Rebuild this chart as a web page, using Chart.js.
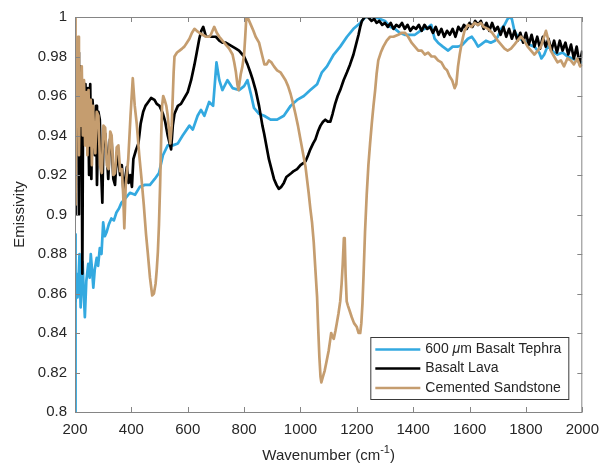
<!DOCTYPE html>
<html>
<head>
<meta charset="utf-8">
<script src="https://cdn.jsdelivr.net/npm/chart.js@4.4.0/dist/chart.umd.min.js"></script>
<style>
  html, body { margin: 0; padding: 0; background: #fff; }
  #wrap { width: 608px; height: 468px; }
</style>
</head>
<body>
<div id="wrap"><canvas id="chart" width="608" height="468"></canvas></div>
<script>
  // ── data: [wavenumber (cm-1), emissivity] ──
  const xTicks = [200, 400, 600, 800, 1000, 1200, 1400, 1600, 1800, 2000];
  const yTicks = [0.8, 0.82, 0.84, 0.86, 0.88, 0.9, 0.92, 0.94, 0.96, 0.98, 1];

  const seriesNames = ['600 μm Basalt Tephra', 'Basalt Lava', 'Cemented Sandstone'];

  const tephra = [
    [200,0.800],[201,0.890],[203,0.855],[206,0.870],[209,0.858],[212,0.865],[216,0.880],[220,0.853],
    [224,0.868],[227,0.876],[231,0.860],[235,0.848],[240,0.866],[247,0.875],[252,0.868],[256,0.880],
    [261,0.871],[265,0.863],[270,0.872],[277,0.878],[282,0.874],[288,0.883],[294,0.880],[300,0.896],
    [306,0.889],[312,0.891],[320,0.895],[329,0.898],[338,0.897],[347,0.901],[356,0.903],[365,0.906],
    [378,0.908],[395,0.911],[413,0.910],[430,0.914],[448,0.915],[466,0.915],[483,0.918],[498,0.921],
    [512,0.930],[529,0.935],[547,0.935],[565,0.936],[582,0.940],[606,0.945],[618,0.943],[635,0.950],
    [647,0.953],[659,0.950],[676,0.957],[690,0.955],[702,0.977],[712,0.968],[723,0.963],[741,0.968],
    [759,0.964],[782,0.963],[800,0.965],[812,0.968],[824,0.961],[835,0.954],[853,0.951],[871,0.950],
    [894,0.948],[917,0.948],[941,0.950],[965,0.955],[988,0.958],[1012,0.960],[1035,0.963],[1059,0.966],
    [1076,0.972],[1094,0.975],[1118,0.981],[1141,0.985],[1165,0.990],[1188,0.994],[1212,0.997],[1230,1.000],
    [1250,1.000],[1265,1.000],[1282,0.999],[1300,0.998],[1318,0.995],[1335,0.994],[1352,0.992],[1370,0.991],
    [1388,0.991],[1406,0.991],[1425,0.993],[1441,0.994],[1455,0.995],[1464,0.996],[1476,0.989],[1488,0.987],
    [1505,0.985],[1524,0.983],[1540,0.985],[1559,0.985],[1575,0.986],[1594,0.989],[1608,0.990],[1618,0.988],
    [1630,0.985],[1640,0.986],[1658,0.988],[1675,0.987],[1690,0.988],[1700,0.990],[1712,0.994],[1724,0.996],
    [1735,0.999],[1742,1.000],[1750,0.999],[1759,0.993],[1775,0.989],[1795,0.988],[1812,0.986],[1830,0.985],
    [1847,0.982],[1855,0.979],[1865,0.981],[1876,0.985],[1888,0.984],[1900,0.982],[1912,0.981],[1930,0.982],
    [1947,0.980],[1965,0.979],[1980,0.978],[1993,0.977],[2000,0.977]
  ];

  const lava = [
    [200,0.900],[202,0.985],[205,0.960],[208,0.975],[211,0.982],[214,0.900],[217,0.975],[220,0.962],
    [223,0.968],[226,0.870],[229,0.966],[233,0.950],[237,0.966],[242,0.940],[246,0.964],[250,0.920],
    [254,0.966],[258,0.918],[262,0.958],[266,0.950],[270,0.930],[275,0.955],[278,0.915],[283,0.952],
    [288,0.948],[292,0.925],[297,0.906],[301,0.940],[307,0.941],[313,0.930],[318,0.918],[324,0.938],
    [330,0.937],[336,0.918],[342,0.915],[348,0.930],[354,0.927],[360,0.920],[366,0.925],[372,0.912],
    [378,0.918],[384,0.924],[390,0.916],[396,0.920],[402,0.914],[407,0.928],[415,0.932],[425,0.936],
    [433,0.946],[442,0.952],[450,0.955],[460,0.957],[470,0.959],[482,0.958],[490,0.956],[500,0.955],
    [512,0.951],[520,0.947],[529,0.940],[541,0.933],[547,0.945],[553,0.951],[565,0.955],[576,0.956],
    [588,0.959],[600,0.962],[612,0.968],[624,0.976],[632,0.982],[641,0.989],[648,0.993],[655,0.995],
    [665,0.990],[676,0.990],[690,0.990],[700,0.990],[712,0.988],[723,0.987],[735,0.987],[747,0.986],
    [759,0.985],[771,0.984],[782,0.983],[800,0.980],[812,0.976],[822,0.972],[829,0.969],[841,0.963],
    [853,0.955],[865,0.945],[871,0.941],[888,0.928],[906,0.918],[915,0.915],[923,0.913],[932,0.914],
    [941,0.916],[950,0.919],[959,0.920],[968,0.921],[976,0.922],[988,0.923],[1000,0.925],[1010,0.926],
    [1018,0.927],[1027,0.930],[1035,0.933],[1045,0.936],[1053,0.938],[1062,0.942],[1071,0.945],[1080,0.947],
    [1088,0.948],[1097,0.947],[1106,0.947],[1114,0.951],[1123,0.956],[1132,0.960],[1141,0.963],[1153,0.968],
    [1165,0.972],[1176,0.976],[1188,0.981],[1197,0.986],[1206,0.991],[1212,0.995],[1218,0.998],[1228,1.000],
    [1240,1.000],[1252,0.998],[1262,0.999],[1270,0.997],[1280,0.998],[1290,0.996],[1300,0.997],[1310,0.995],
    [1320,0.997],[1330,0.994],[1340,0.996],[1350,0.995],[1360,0.997],[1370,0.994],[1380,0.996],[1390,0.993],
    [1400,0.995],[1410,0.994],[1420,0.996],[1430,0.993],[1440,0.996],[1450,0.994],[1460,0.995],[1470,0.992],
    [1480,0.995],[1490,0.991],[1500,0.994],[1510,0.990],[1520,0.993],[1530,0.991],[1540,0.994],[1550,0.990],
    [1560,0.995],[1570,0.993],[1580,0.996],[1590,0.994],[1600,0.997],[1610,0.995],[1620,0.998],[1630,0.996],
    [1640,0.998],[1650,0.994],[1660,0.997],[1670,0.993],[1680,0.997],[1690,0.993],[1700,0.995],[1710,0.991],
    [1720,0.995],[1730,0.990],[1740,0.994],[1750,0.989],[1760,0.993],[1770,0.988],[1780,0.992],[1790,0.987],
    [1800,0.992],[1810,0.986],[1820,0.991],[1830,0.985],[1840,0.990],[1850,0.984],[1860,0.990],[1870,0.985],
    [1880,0.989],[1890,0.983],[1900,0.988],[1910,0.982],[1920,0.988],[1930,0.983],[1940,0.987],[1950,0.981],
    [1960,0.986],[1970,0.979],[1980,0.985],[1990,0.976],[2000,0.983]
  ];

  const sandstone = [
    [200,1.000],[201,0.968],[203,0.905],[205,0.975],[208,0.950],[211,0.990],[214,0.930],[217,0.971],
    [220,0.945],[224,0.975],[228,0.940],[232,0.968],[236,0.935],[240,0.962],[244,0.930],[248,0.963],
    [252,0.935],[256,0.958],[260,0.925],[264,0.955],[268,0.940],[272,0.931],[277,0.952],[283,0.950],
    [289,0.925],[295,0.921],[301,0.945],[307,0.944],[313,0.925],[319,0.923],[325,0.942],[330,0.940],
    [336,0.920],[342,0.921],[348,0.934],[354,0.935],[360,0.922],[366,0.923],[371,0.910],[375,0.893],
    [380,0.915],[389,0.928],[397,0.950],[405,0.969],[412,0.955],[419,0.946],[428,0.930],[436,0.918],
    [444,0.905],[452,0.890],[458,0.881],[466,0.868],[474,0.859],[480,0.860],[486,0.865],[490,0.872],
    [494,0.881],[498,0.895],[502,0.915],[506,0.940],[509,0.955],[513,0.960],[518,0.958],[524,0.955],
    [529,0.950],[534,0.942],[538,0.936],[543,0.945],[547,0.960],[550,0.972],[553,0.980],[562,0.982],
    [571,0.983],[580,0.984],[588,0.985],[597,0.987],[606,0.989],[615,0.992],[624,0.994],[632,0.993],
    [641,0.992],[653,0.991],[665,0.990],[676,0.990],[682,0.991],[688,0.993],[694,0.995],[703,0.992],
    [712,0.990],[723,0.988],[735,0.986],[747,0.984],[759,0.981],[765,0.977],[771,0.972],[776,0.966],
    [780,0.963],[784,0.967],[788,0.971],[794,0.975],[800,0.981],[804,0.990],[808,1.000],[815,0.999],
    [824,0.996],[833,0.993],[841,0.990],[853,0.987],[865,0.980],[872,0.976],[880,0.976],[888,0.978],
    [897,0.977],[906,0.975],[917,0.973],[929,0.972],[938,0.970],[947,0.968],[956,0.965],[965,0.961],
    [974,0.956],[982,0.951],[991,0.945],[1000,0.938],[1009,0.931],[1018,0.924],[1029,0.911],[1035,0.903],
    [1041,0.896],[1047,0.886],[1053,0.872],[1059,0.858],[1063,0.842],[1067,0.828],[1071,0.818],[1074,0.815],
    [1080,0.818],[1086,0.821],[1093,0.826],[1100,0.831],[1105,0.836],[1109,0.840],[1114,0.838],[1118,0.837],
    [1124,0.841],[1129,0.845],[1135,0.850],[1141,0.856],[1146,0.865],[1150,0.875],[1154,0.888],[1157,0.888],
    [1160,0.870],[1164,0.856],[1168,0.854],[1175,0.851],[1182,0.848],[1190,0.845],[1200,0.843],[1206,0.840],
    [1212,0.840],[1216,0.845],[1220,0.855],[1224,0.870],[1229,0.891],[1235,0.910],[1241,0.925],[1247,0.936],
    [1253,0.946],[1259,0.955],[1265,0.963],[1270,0.971],[1276,0.978],[1285,0.982],[1294,0.985],[1306,0.988],
    [1318,0.990],[1330,0.990],[1347,0.991],[1360,0.992],[1371,0.992],[1382,0.990],[1394,0.987],[1406,0.985],
    [1418,0.983],[1430,0.983],[1441,0.981],[1453,0.982],[1465,0.980],[1476,0.980],[1488,0.978],[1500,0.977],
    [1512,0.974],[1520,0.973],[1529,0.970],[1538,0.968],[1547,0.964],[1553,0.966],[1559,0.975],[1565,0.981],
    [1571,0.986],[1577,0.990],[1582,0.993],[1594,0.996],[1606,0.995],[1618,0.997],[1629,0.996],[1640,0.997],
    [1650,0.995],[1665,0.994],[1680,0.992],[1690,0.990],[1700,0.988],[1712,0.986],[1724,0.984],[1735,0.983],
    [1747,0.984],[1759,0.986],[1770,0.988],[1782,0.990],[1794,0.988],[1806,0.985],[1818,0.983],[1830,0.981],
    [1842,0.983],[1853,0.985],[1862,0.989],[1871,0.993],[1880,0.988],[1888,0.983],[1900,0.980],[1912,0.977],
    [1924,0.978],[1935,0.975],[1947,0.979],[1959,0.978],[1970,0.976],[1982,0.979],[1992,0.975],[2000,0.976]
  ];

  const FONT = "'Liberation Sans', Arial, Helvetica, sans-serif";
  const AXIS_COLOR = '#858585';
  const TEXT_COLOR = '#262626';
  const COLORS = ['#33a9e0', '#000000', '#c59d6f'];

  const toXY = (arr) => arr.map(([x, y]) => ({ x, y }));

  // ── box, inward ticks, x title, legend (MATLAB look) ──
  const matlabFrame = {
    id: 'matlabFrame',
    afterDatasetsDraw(chart) {
      const { ctx, chartArea: a, scales: { x, y } } = chart;
      ctx.save();

      // axes box + ticks
      ctx.strokeStyle = AXIS_COLOR;
      ctx.lineWidth = 1;
      ctx.beginPath();
      xTicks.forEach(v => {
        const px = Math.round(x.getPixelForValue(v)) + 0.5;
        ctx.moveTo(px, a.bottom); ctx.lineTo(px, a.bottom - 5);
        ctx.moveTo(px, a.top); ctx.lineTo(px, a.top + 5);
      });
      yTicks.forEach(v => {
        const py = Math.round(y.getPixelForValue(v)) + 0.5;
        ctx.moveTo(a.left, py); ctx.lineTo(a.left + 5, py);
        ctx.moveTo(a.right, py); ctx.lineTo(a.right - 5, py);
      });
      ctx.stroke();
      ctx.strokeRect(a.left + 0.5, a.top + 0.5, a.width - 1, a.height);

      // x title with superscript
      ctx.fillStyle = TEXT_COLOR;
      ctx.textBaseline = 'alphabetic';
      const main = '15px ' + FONT, sup = '11px ' + FONT;
      ctx.font = main;
      const t1 = 'Wavenumber (cm', t3 = ')';
      const w1 = ctx.measureText(t1).width, w3 = ctx.measureText(t3).width;
      ctx.font = sup;
      const w2 = ctx.measureText('-1').width;
      const cx = (a.left + a.right) / 2;
      let tx = cx - (w1 + w2 + w3) / 2;
      const base = a.bottom + 48;
      ctx.font = main; ctx.textAlign = 'left';
      ctx.fillText(t1, tx, base); tx += w1;
      ctx.font = sup; ctx.fillText('-1', tx, base - 7); tx += w2;
      ctx.font = main; ctx.fillText(t3, tx, base);

      // legend
      const bw = 198, bh = 62;
      const bx = a.right - 14 - bw, by = a.bottom - 13 - bh;
      ctx.fillStyle = '#fff';
      ctx.fillRect(bx, by, bw, bh);
      ctx.strokeStyle = '#3a3a3a';
      ctx.strokeRect(bx + 0.5, by + 0.5, bw, bh);
      const rowY = [by + 12.5, by + 31.5, by + 51];
      chart.data.datasets.forEach((ds, i) => {
        const ry = rowY[i];
        ctx.strokeStyle = ds.borderColor;
        ctx.lineWidth = 2.7;
        ctx.beginPath();
        ctx.moveTo(bx + 5, ry); ctx.lineTo(bx + 50, ry);
        ctx.stroke();
        ctx.fillStyle = TEXT_COLOR;
        ctx.textBaseline = 'middle';
        let lx = bx + 55;
        if (i === 0) {
          // TeX-style italic mu
          const parts = [['600 ', '14px ' + FONT], ['μ', 'italic 14px ' + FONT], ['m Basalt Tephra', '14px ' + FONT]];
          parts.forEach(([s, f]) => { ctx.font = f; ctx.fillText(s, lx, ry); lx += ctx.measureText(s).width; });
        } else {
          ctx.font = '14px ' + FONT;
          ctx.fillText(ds.label, lx, ry);
        }
      });
      ctx.restore();
    }
  };

  new Chart(document.getElementById('chart'), {
    type: 'line',
    data: {
      datasets: [
        { label: seriesNames[0], data: toXY(tephra), borderColor: COLORS[0], order: 3 },
        { label: seriesNames[1], data: toXY(lava), borderColor: COLORS[1], order: 2 },
        { label: seriesNames[2], data: toXY(sandstone), borderColor: COLORS[2], order: 1 },
      ],
    },
    options: {
      responsive: false,
      animation: false,
      layout: { padding: { top: 12, right: 23, left: 0, bottom: 0 } },
      elements: {
        point: { radius: 0 },
        line: { borderWidth: 2.7, tension: 0, fill: false, borderJoinStyle: 'round' },
      },
      plugins: { legend: { display: false }, tooltip: { enabled: false } },
      scales: {
        x: {
          type: 'linear', min: 200, max: 2000,
          grid: { display: false, drawTicks: false },
          border: { display: false },
          afterBuildTicks: (s) => { s.ticks = xTicks.map(v => ({ value: v })); },
          afterFit: (s) => { s.height = 56; },
          ticks: { color: TEXT_COLOR, font: { family: FONT, size: 15 }, padding: 9, maxRotation: 0, autoSkip: false,
                   callback: (v) => String(v) },
        },
        y: {
          type: 'linear', min: 0.8, max: 1,
          grid: { display: false, drawTicks: false },
          border: { display: false },
          afterBuildTicks: (s) => { s.ticks = yTicks.map(v => ({ value: v })); },
          afterFit: (s) => { s.width = 75; },
          ticks: { color: TEXT_COLOR, font: { family: FONT, size: 15 }, padding: 8, autoSkip: false,
                   callback: (v) => String(+v.toFixed(2)) },
          title: { display: true, text: 'Emissivity', color: TEXT_COLOR, font: { family: FONT, size: 15 },
                   padding: { top: 11, bottom: 0 } },
        },
      },
    },
    plugins: [matlabFrame],
  });
</script>
</body>
</html>
